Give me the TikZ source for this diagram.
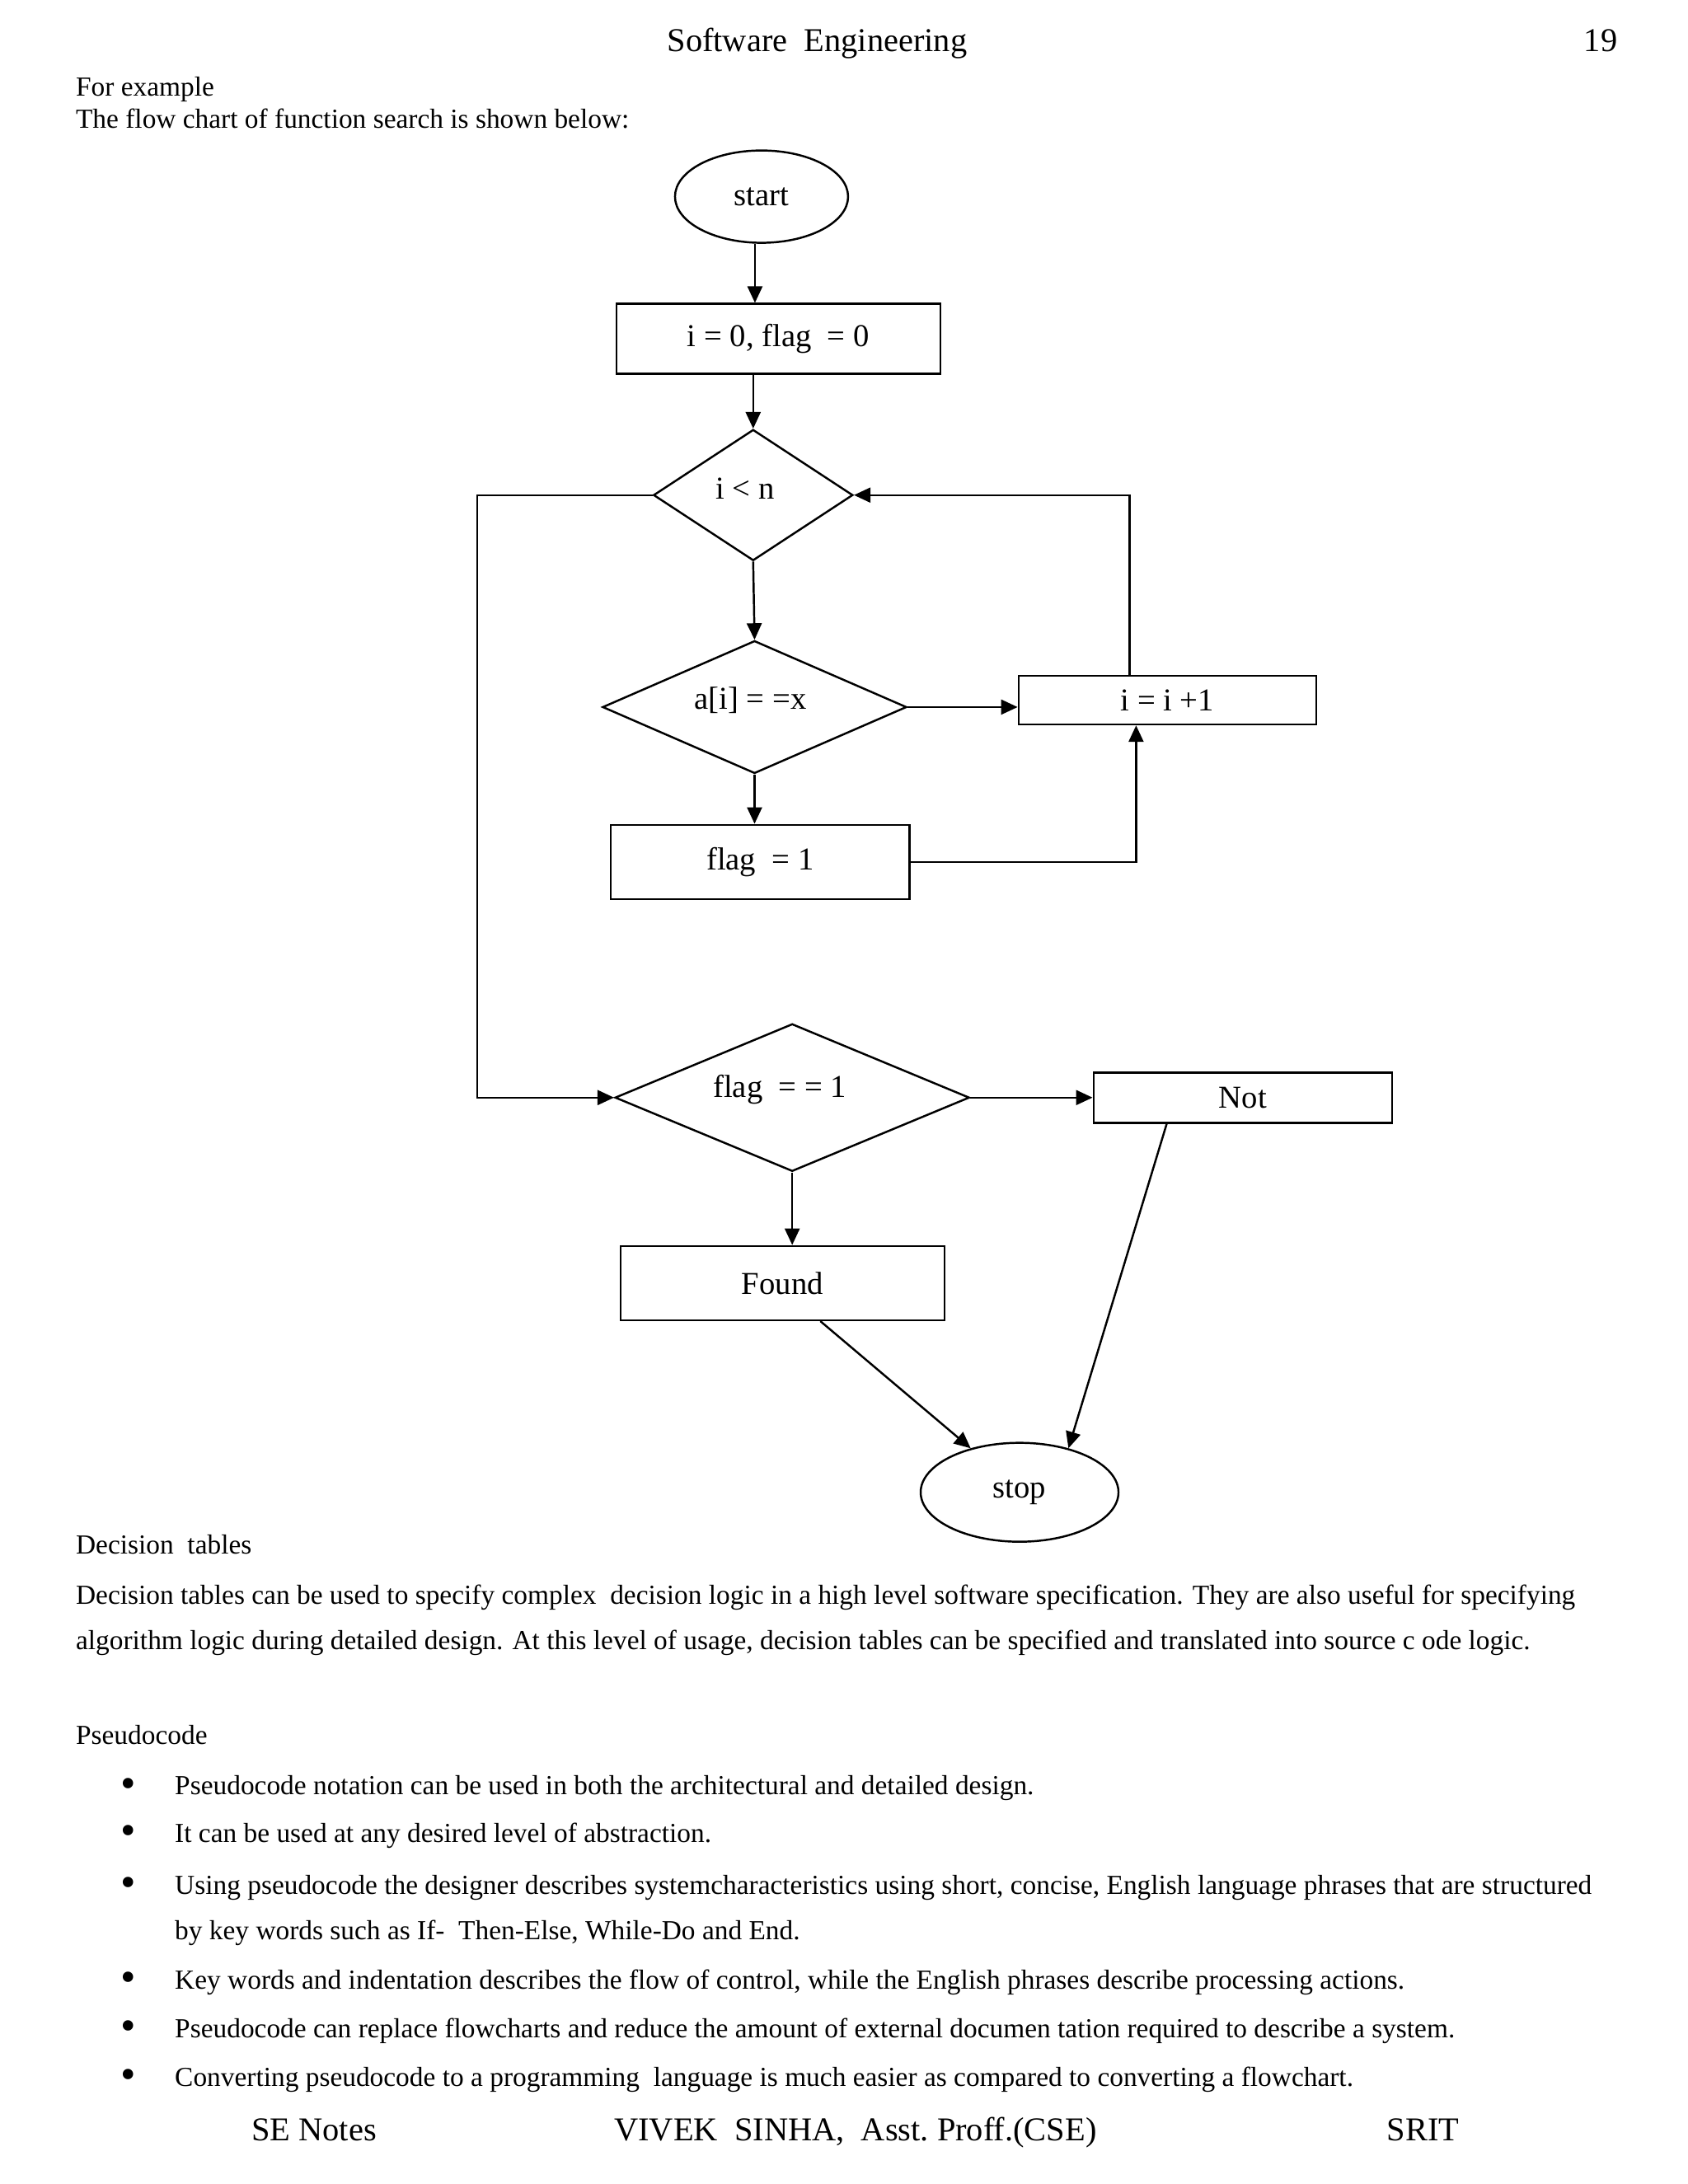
\documentclass[tikz,border=0pt]{standalone}
\usepackage{fontspec}
\setmainfont{Liberation Serif}
\usetikzlibrary{shapes.geometric,arrows.meta}
\tikzset{
  term/.style={draw, ellipse, line width=0.7pt, inner sep=0pt, font=\fontsize{11}{13}\selectfont},
  proc/.style={draw, rectangle, line width=0.7pt, inner sep=0pt, font=\fontsize{11}{13}\selectfont},
  dec/.style={draw, diamond, line width=0.7pt, inner sep=0pt, font=\fontsize{11}{13}\selectfont},
  arr/.style={line width=0.7pt, -{Triangle[length=2mm,width=1.8mm]}},
  txt/.style={anchor=base west, inner sep=0pt, font=\fontsize{9.5}{11}\selectfont},
  hdr/.style={inner sep=0pt, font=\fontsize{11.5}{13}\selectfont}
}
% label lifted and moved left inside a decision box, without changing its size
\newcommand{\declabel}[3]{\raisebox{#1}[0pt][0pt]{\makebox[0pt][c]{#3\hspace{#2}}}}
\begin{document}
\begin{tikzpicture}[x=0.016926cm,y=-0.016926cm]
\useasboundingbox[fill=white] (0,0) rectangle (1210,1566);

% page header
\node[hdr, anchor=base west] (head) at (478,37) {Software\ \ Engineering};
\node[hdr, anchor=base east] (pnum) at (1160,37) {19};
\node[txt] (ex) at (54,69) {For example};
\node[txt] (intro) at (54,92) {The flow chart of function search is shown below:};

% flow chart
\node[term, minimum width=2.10cm, minimum height=1.12cm] (start) at (546,141) {start};
\node[proc, minimum width=3.93cm, minimum height=0.85cm] (init) at (558,243) {i = 0, flag\ \ = 0};
\node[dec, minimum width=2.42cm, minimum height=1.59cm] (cond) at (540,355) {\declabel{-0.05cm}{0.2cm}{i < n}};
\node[dec, minimum width=3.69cm, minimum height=1.61cm] (check) at (541,507) {\declabel{-0.03cm}{0.1cm}{a[i]\ = =x}};
\node[proc, minimum width=3.61cm, minimum height=0.59cm] (incr) at (837,502) {i = i +1};
\node[proc, minimum width=3.62cm, minimum height=0.90cm] (setf) at (545,618) {flag\ \ = 1};
\node[dec, minimum width=4.30cm, minimum height=1.79cm] (fcheck) at (568,787) {\declabel{0cm}{0.3cm}{flag\ \ = = 1}};
\node[proc, minimum width=3.62cm, minimum height=0.61cm] (notf) at (891,787) {Not};
\node[proc, minimum width=3.93cm, minimum height=0.90cm] (found) at (561,920) {Found};
\node[term, minimum width=2.40cm, minimum height=1.20cm] (stop) at (731,1070) {stop};
\coordinate (lft) at (342,355);

\draw[arr] ([xshift=-0.08cm]start.south) -- ([xshift=-0.08cm]start.south |- init.north);
\draw[arr] (init.south -| cond.north) -- (cond.north);
\draw[arr] (cond.south) -- (check.north);
\draw[arr] (check.east) -- (check.east -| incr.west);
\draw[arr] ([xshift=-0.46cm]incr.north) |- (cond.east);
\draw[arr] (check.south) -- (check.south |- setf.north);
\draw[arr] (setf.east) -| ([xshift=-0.38cm]incr.south);
\draw[arr] (cond.west) -- (lft) |- (fcheck.west);
\draw[arr] (fcheck.east) -- (fcheck.east -| notf.west);
\draw[arr] (fcheck.south) -- (fcheck.south |- found.north);
\draw[arr] ([xshift=0.46cm]found.south) -- (stop.138);
\draw[arr] ([xshift=0.90cm]notf.south west) -- (stop.42);

% text below the chart
\node[txt] (dt) at (54,1114) {Decision\ \ tables};
\node[txt] (dt1) at (54,1150) {Decision tables can be used to specify complex\ \ decision logic in a high level software specification. They are also useful for specifying};
\node[txt] (dt2) at (54,1183) {algorithm logic during detailed design. At this level of usage, decision tables can be specified and translated into source c ode logic.};
\node[txt] (ps) at (54,1251) {Pseudocode};
\foreach \yy/\tt in {1287/{Pseudocode notation can be used in both the architectural and detailed design.},
  1321/{It can be used at any desired level of abstraction.},
  1358/{Using pseudocode the designer describes systemcharacteristics using short, concise, English language phrases that are structured},
  1426/{Key words and indentation describes the flow of control, while the English phrases describe processing actions.},
  1461/{Pseudocode can replace flowcharts and reduce the amount of external documen tation required to describe a system.},
  1496/{Converting pseudocode to a programming\ \ language is much easier as compared to converting a flowchart.}}
{
  \node[txt, font=\fontsize{15}{15}\selectfont] at (86,\yy+2) {\textbullet};
  \node[txt] at (125,\yy) {\tt};
}
\node[txt] (b3b) at (125,1391) {by key words such as If-\ \ Then-Else, While-Do and End.};

% page footer
\node[hdr, anchor=base west] (f1) at (180,1535) {SE Notes};
\node[hdr, anchor=base west] (f2) at (440,1535) {VIVEK\ \ SINHA,\ \ Asst.\ Proff.(CSE)};
\node[hdr, anchor=base west] (f3) at (994,1535) {SRIT};
\end{tikzpicture}
\end{document}
